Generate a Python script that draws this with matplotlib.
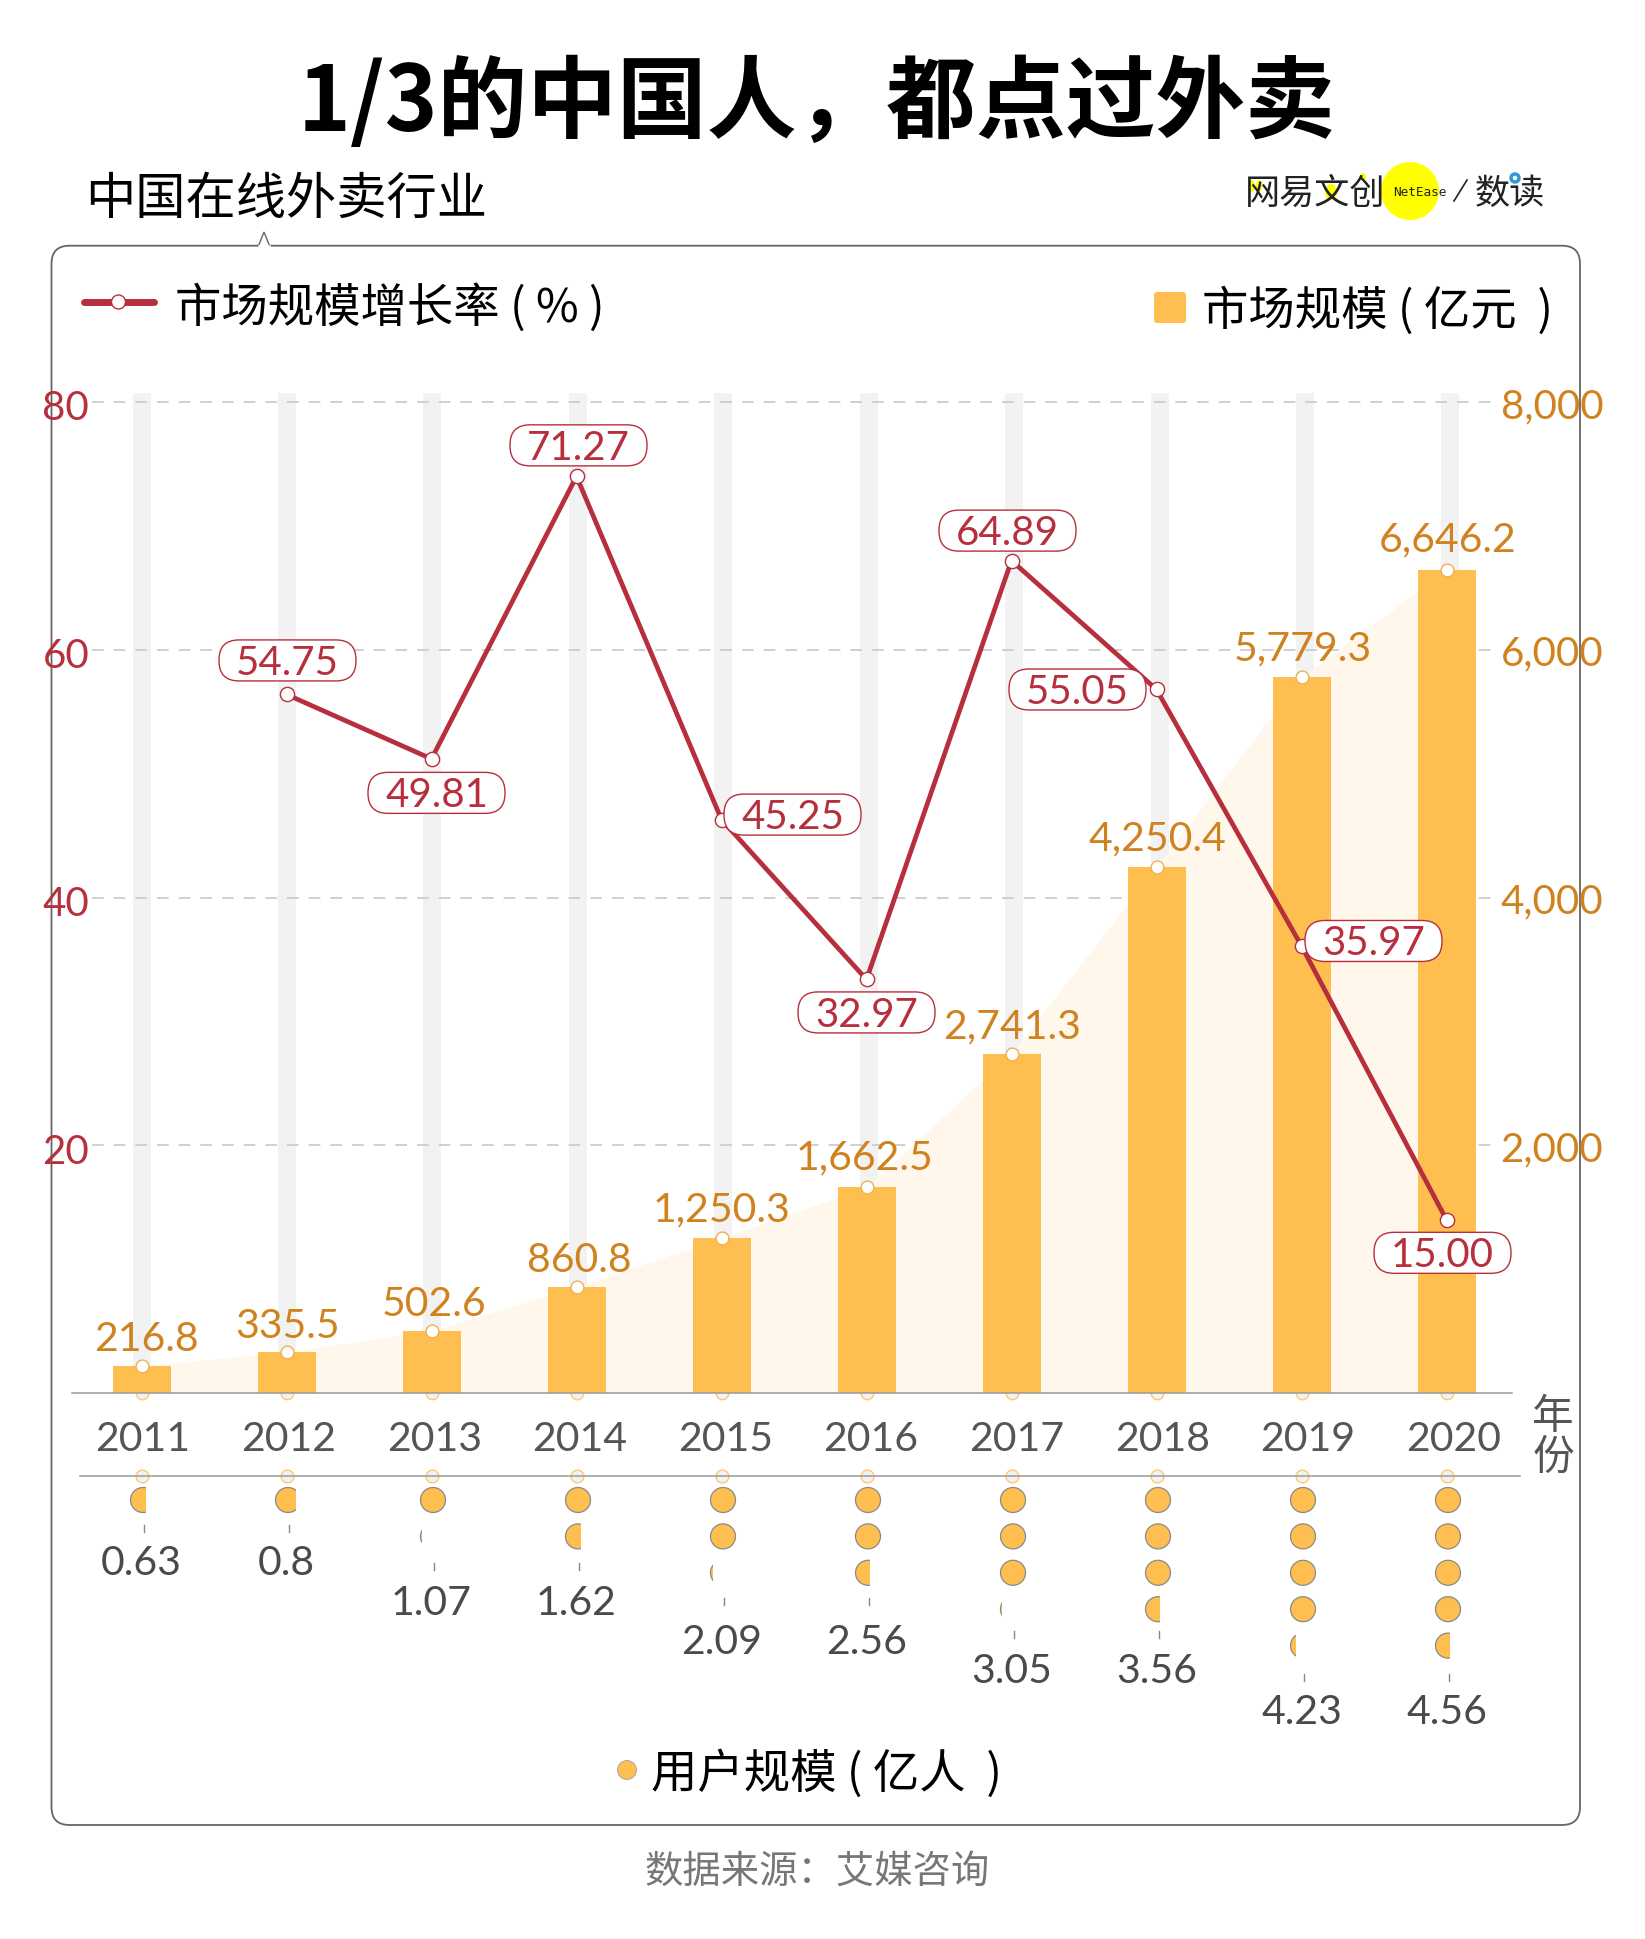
import math
import matplotlib
matplotlib.use("Agg")
import matplotlib.pyplot as plt
from matplotlib.patches import Ellipse, Rectangle, FancyBboxPatch, Circle, Polygon
from matplotlib.transforms import IdentityTransform, ScaledTranslation

CJK = ['Noto Sans CJK SC', 'DejaVu Sans']
NUM = ['Lato', 'Noto Sans CJK SC', 'DejaVu Sans']
plt.rcParams['font.family'] = NUM

years = [2011, 2012, 2013, 2014, 2015, 2016, 2017, 2018, 2019, 2020]
market = [216.8, 335.5, 502.6, 860.8, 1250.3, 1662.5, 2741.3, 4250.4, 5779.3, 6646.2]
market_labels = ['216.8', '335.5', '502.6', '860.8', '1,250.3', '1,662.5', '2,741.3', '4,250.4', '5,779.3', '6,646.2']
growth_years = [2012, 2013, 2014, 2015, 2016, 2017, 2018, 2019, 2020]
growth_drawn = [56.4, 51.2, 74.0, 46.3, 33.4, 67.2, 56.8, 36.1, 14.0]
growth_labels = ['54.75', '49.81', '71.27', '45.25', '32.97', '64.89', '55.05', '35.97', '15.00']
users = [0.63, 0.8, 1.07, 1.62, 2.09, 2.56, 3.05, 3.56, 4.23, 4.56]
users_labels = ['0.63', '0.8', '1.07', '1.62', '2.09', '2.56', '3.05', '3.56', '4.23', '4.56']

RED = '#B72F3C'
ORANGE = '#D0821F'
BAR = '#FFBE50'
GREY = '#555555'
W, H = 1645, 1940
fig = plt.figure(figsize=(W / 100, H / 100), dpi=100, facecolor='white')

px = fig.add_axes([0, 0, 1, 1], zorder=0)
px.set_xlim(0, W); px.set_ylim(H, 0); px.axis('off')

L, R, T, B = 92, 1495, 394, 1394.3
X0, STEP = 141.5, 145.0
PX_PER = 991.3 / 8000
xlim = ((L - X0) / STEP, (R - X0) / STEP)
ymax = (B - T) / PX_PER

def rect(l, t, r, b):
    return [l / W, 1 - b / H, (r - l) / W, (b - t) / H]

ax = fig.add_axes(rect(L, T, R, B), zorder=2)
ax.patch.set_alpha(0)
idx = list(range(len(years)))
ax.set_xlim(*xlim); ax.set_ylim(0, ymax)
ax.bar([i * 1.003 for i in idx], [ymax] * 10, width=18 / STEP, color='#F2F2F2', zorder=1)
for g in [2000, 4000, 6000, 8000]:
    ax.axhline(g, color='#C8C8C8', lw=1.2, ls=(0, (7, 6)), zorder=1.5)
ax.fill_between(idx, 0, market, color='#FFF7EB', lw=0, zorder=2)
ax.scatter(idx, [0] * 10, s=80, facecolor='#F2F2F2', edgecolor='#FFC76F', lw=1, clip_on=False, zorder=2.5)
ax.bar(idx, market, width=58 / STEP, color=BAR, zorder=3)
ax.scatter(idx, market, s=85, facecolor='white', edgecolor='#F0B050', lw=1, zorder=4)
for i, lab, dy, dx in zip(idx, market_labels, [28, 26, 28, 27, 29, 30, 28, 29, 29, 31], [5, 1, 2, 3, 0, -2, 1, 1, 1, 1]):
    ax.annotate(lab, (i, market[i]), xytext=(dx, dy), textcoords='offset pixels', ha='center', va='center',
                fontsize=29.5, color=ORANGE, zorder=5)
ax.set_xticks([])
ax.yaxis.tick_right()
ax.set_yticks([2000, 4000, 6000, 8000], ['2,000', '4,000', '6,000', '8,000'])
ax.tick_params(axis='y', length=0, pad=4, labelsize=29, labelcolor=ORANGE)
for s in ax.spines.values():
    s.set_visible(False)

ax2 = fig.add_axes(rect(L, T, R, B), zorder=3)
ax2.patch.set_alpha(0)
ax2.set_xlim(*xlim); ax2.set_ylim(0, ymax / 100)
gx = [y - years[0] for y in growth_years]
ax2.plot(gx, growth_drawn, color=RED, lw=3.4, zorder=3)
ax2.scatter(gx, growth_drawn, s=105, facecolor='white', edgecolor=RED, lw=1, zorder=4)
pill_off = [(1, 34), (5, -34), (2, 31), (71, 5), (0, -33), (-4, 30), (-79, 0), (72, 5), (-4, -33)]
PW, PH, PR = 137, 41, 20
for x, y, lab, off in zip(gx, growth_drawn, growth_labels, pill_off):
    cx, cy = ax2.transData.transform((x, y))
    cx += off[0]; cy += off[1]
    ax2.add_patch(FancyBboxPatch((cx - PW / 2 + PR, cy - PH / 2 + PR), PW - 2 * PR, PH - 2 * PR,
                                 boxstyle=f'round,pad={PR},rounding_size={PR}', fc='white', ec=RED, lw=1.0,
                                 transform=IdentityTransform(), zorder=5, clip_on=False))
    ax2.annotate(lab, (x, y), xytext=(off[0], off[1] - 2), textcoords='offset pixels', ha='center', va='center',
                 fontsize=29, color=RED, zorder=6)
ax2.set_xticks([])
ax2.set_yticks([20, 40, 60, 80], ['20', '40', '60', '80'])
ax2.tick_params(axis='y', length=0, pad=2, labelsize=29, labelcolor=RED)
shift = ScaledTranslation(0, -2.5 / 100, fig.dpi_scale_trans)
for t in ax2.get_yticklabels():
    t.set_transform(t.get_transform() + shift)
for s in ax2.spines.values():
    s.set_visible(False)

RY0, RSTEP = 1501, 36.4
UT, UB = 1460, 1780
axu = fig.add_axes(rect(L, UT, R, UB), zorder=2)
axu.patch.set_alpha(0); axu.axis('off')
axu.set_xlim(*xlim); axu.set_ylim((UB - RY0) / RSTEP, (UT - RY0) / RSTEP)
cw, ch = 25 / STEP, 25 / RSTEP
for i, u in enumerate(users):
    for r in range(math.ceil(u)):
        frac = min(u - r, 1)
        e = Ellipse((i + 1.5 / STEP, r), cw, ch, fc=BAR, ec='#8A8A8A', lw=0.9, zorder=3)
        axu.add_patch(e)
        if frac < 1:
            left = i + 1.5 / STEP - cw / 2
            e.set_clip_path(Rectangle((left - 0.02, r - ch), 0.02 + cw * frac, 2 * ch, transform=axu.transData))
line_row = (1477 - RY0) / RSTEP
axu.scatter(idx, [line_row] * 10, s=85, facecolor='#F2F2F2', edgecolor='#FFC76F', lw=1, zorder=2, clip_on=False)

px.add_patch(FancyBboxPatch((51.5 + 18, 246.7 + 18), 1580 - 51.5 - 36, 1826 - 246.7 - 36,
                            boxstyle='round,pad=18,rounding_size=18', fc='none', ec='#666666', lw=1.3))
px.add_patch(Polygon([(258, 248), (264, 233), (270, 248)], closed=False, fc='white', ec='#666666', lw=1))
px.plot([259, 269], [247.4, 247.4], color='white', lw=1.8)
fig.add_artist(plt.Line2D([72 / W, 1512 / W], [1 - 1394.3 / H] * 2, color='#9A9A9A', lw=1.1, zorder=5))
fig.add_artist(plt.Line2D([80 / W, 1520 / W], [1 - 1477 / H] * 2, color='#9A9A9A', lw=1.1, zorder=5))

def T_(x, y, s, size, color='black', ha='center', family=CJK, **kw):
    px.text(x, y, s, fontsize=size, color=color, ha=ha, va='center', family=family, zorder=5, **kw)

T_(817, 104, '1/3的中国人，都点过外卖', 64.6, weight='black')
T_(85, 200, '中国在线外卖行业', 36.2, ha='left')

px.add_patch(Circle((1410, 192), 29, fc='#FFFF00', ec='none', zorder=2))
for (ex, ey, erx, ery) in [(1252, 187, 3, 6), (1259, 187, 3, 6), (1331, 193, 6, 8), (1363, 178, 3, 4)]:
    px.add_patch(Ellipse((ex, ey), 2 * erx, 2 * ery, fc='#FFFF00', ec='none', zorder=2))
T_(1245, 194, '网易文创', 25.3, ha='left', color='#222222')
T_(1420, 193, 'NetEase', 9.2, color='#222222', family=['DejaVu Sans Mono'])
px.plot([1454, 1467], [202, 181], color='#222222', lw=1.2, zorder=3)
T_(1475, 194, '数读', 25.3, ha='left', weight='medium', color='#222222')
px.add_patch(Circle((1515, 179), 4, fc='white', ec='#2E9BD6', lw=2.5, zorder=6))

px.plot([84, 154], [303, 303], color=RED, lw=5, solid_capstyle='round')
px.add_patch(Circle((118.5, 303), 7, fc='white', ec=RED, lw=1, zorder=4))
T_(175, 309, '市场规模增长率 ( % )', 33.4, ha='left')
px.add_patch(FancyBboxPatch((1157, 296), 26, 25, boxstyle='round,pad=3,rounding_size=3', fc=BAR, ec='none'))
T_(1202, 312, '市场规模 ( 亿元  )', 33.4, ha='left')
px.add_patch(Circle((627, 1771), 9.5, fc=BAR, ec='#AAAAAA', lw=0.7))
T_(651, 1775, '用户规模 ( 亿人  )', 33.4, ha='left')
T_(817, 1872, '数据来源：艾媒咨询', 27.6, color='#777777', weight='light')
T_(1553, 1438, '年\n份', 30, color=GREY, weight='light', linespacing=1.0)

for i, y in enumerate(years):
    px.text(143 + 145.6 * i, 1439.4, str(y), fontsize=29.5, color=GREY, ha='center', va='center', family=NUM, zorder=5)

label_y = {1: 1563.5, 2: 1603.5, 3: 1642.5, 4: 1671.5, 5: 1712.5}
tick_y = {1: 1526, 2: 1564, 3: 1599, 4: 1632, 5: 1675}
for i, (u, lab) in enumerate(zip(users, users_labels)):
    n = math.ceil(u)
    x = X0 + STEP * i
    px.text(x, label_y[n], lab, fontsize=29.5, color='#4A4A4A', ha='center', va='center', family=NUM, zorder=5)
    px.plot([x + 2, x + 2], [tick_y[n], tick_y[n] + 7], color='#888888', lw=1)

fig.savefig('out.png', dpi=100)
